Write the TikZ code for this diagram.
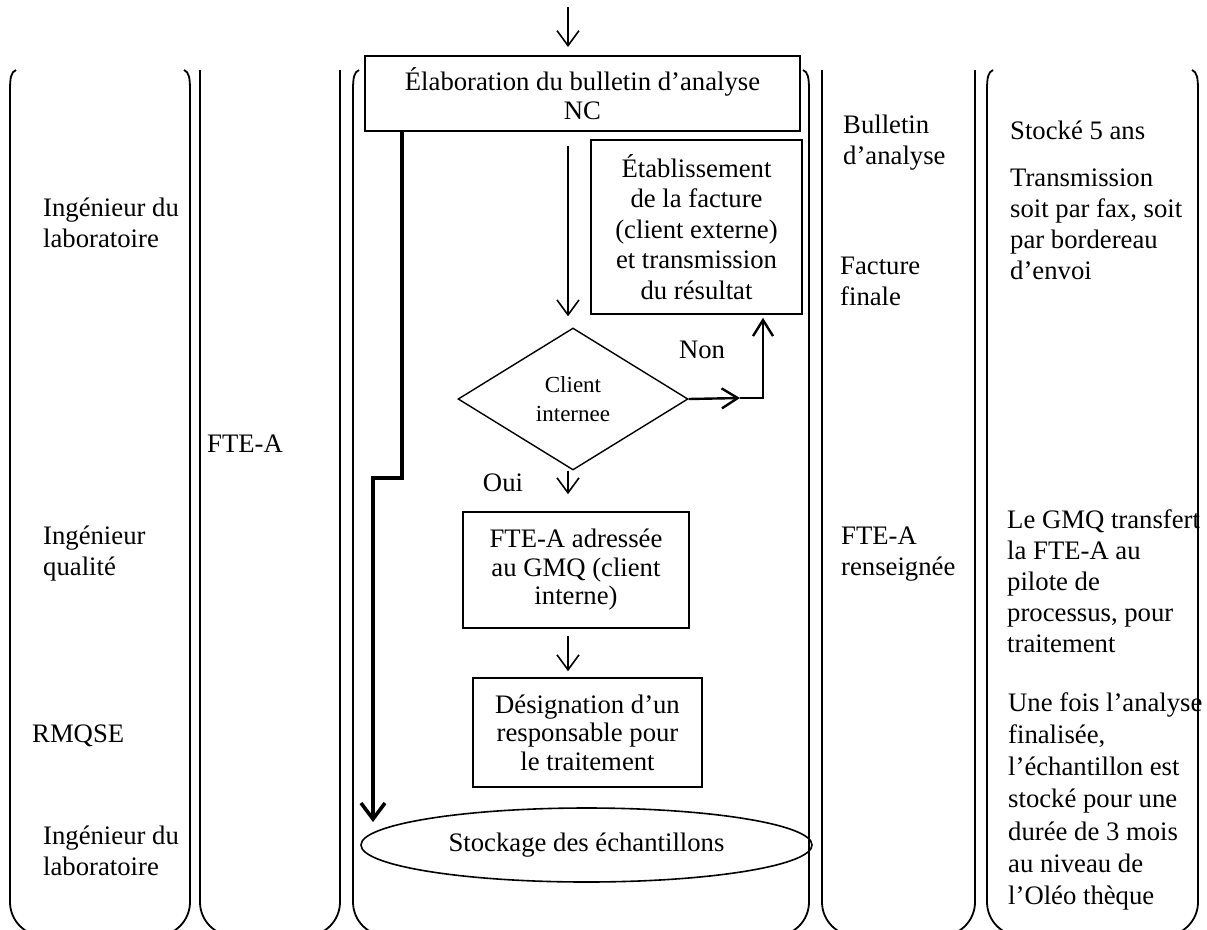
\documentclass[tikz,border=0pt]{standalone}
\usepackage{fontspec}
\setmainfont{Liberation Serif}
\usetikzlibrary{arrows.meta,shapes.geometric,calc}

\newcommand\sidefont{\fontsize{26.7}{31}\selectfont}
\newcommand\boxfont{\fontsize{26.7}{28.5}\selectfont}
\newcommand\decfont{\fontsize{23}{29}\selectfont}

\tikzset{
  lane/.style={line width=1.8pt},
  box/.style={draw, line width=1.6pt, align=center, font=\boxfont, inner sep=0pt},
  side/.style={align=left, anchor=north west, inner sep=0pt, font=\sidefont},
  lbl/.style={inner sep=0pt, font=\sidefont},
  arr/.style={line width=1.6pt, -{Straight Barb[length=15pt,width=22pt]}},
  heavy/.style={line width=3.6pt, -{Straight Barb[length=16pt,width=24pt]}},
  midarr/.style={line width=2.4pt, -{Straight Barb[length=16pt,width=20pt]}}
}

\begin{document}
\begin{tikzpicture}[x=1pt,y=-1pt]
\useasboundingbox (0,0) rectangle (1207,929);

% swim lanes: bracket-shaped lanes with curled tops
\foreach \l/\r in {10/190, 353/809, 987/1198} {
  \draw[lane] (\l+6,70) .. controls (\l+1,72) and (\l,78) .. (\l,90);
  \draw[lane] (\r-6,70) .. controls (\r-1,72) and (\r,78) .. (\r,90);
  \draw[lane, rounded corners=34pt] (\l,90) -- (\l,936) -- (\r,936) -- (\r,90);
}
% plain lanes
\foreach \l/\r in {200/340, 822/975} {
  \draw[lane, rounded corners=34pt] (\l,70) -- (\l,936) -- (\r,936) -- (\r,70);
}

% actors
\node[side] (act1) at (43,198) {Ingénieur du\\laboratoire};
\node[side] (act2) at (43,526) {Ingénieur\\qualité};
\node[side] (act3) at (32,725) {RMQSE};
\node[side] (act4) at (43,826) {Ingénieur du\\laboratoire};

% documents
\node[side] (doc1) at (207,435) {FTE-A};
\node[side] (doc2) at (843,115) {Bulletin\\d’analyse};
\node[side] (doc3) at (840,257) {Facture\\finale};
\node[side] (doc4) at (841,527) {FTE-A\\renseignée};

% remarks
\node[side] (rem1) at (1010,121) {Stocké 5 ans};
\node[side] (rem2) at (1010,169) {Transmission\\soit par fax, soit\\par bordereau\\d’envoi};
\node[side] (rem3) at (1007,509) {Le GMQ transfert\\la FTE-A au\\pilote de\\processus, pour\\traitement};
\node[side, font=\fontsize{26.7}{32.3}\selectfont] (rem4) at (1008,692) {Une fois l’analyse\\finalisée,\\l’échantillon est\\stocké pour une\\durée de 3 mois\\au niveau de\\l’Oléo thèque};

% process steps
\node[box, minimum width=435pt, minimum height=75pt] (elab) at (582.5,93.5) {Élaboration du bulletin d’analyse\\NC};
\node[box, font=\fontsize{26.7}{30.5}\selectfont, minimum width=211pt, minimum height=174pt] (fact) at (696.5,227) {Établissement\\de la facture\\(client externe)\\et transmission\\du résultat};
\node[draw, diamond, line width=1.4pt, minimum width=230pt, minimum height=142pt, inner sep=0pt, align=center, font=\decfont] (dec) at (573,399) {Client\\internee};
\node[box, minimum width=226pt, minimum height=116pt] (fte) at (576,570) {FTE-A adressée\\au GMQ (client\\interne)};
\node[box, minimum width=229pt, minimum height=109pt] (desig) at (587.5,732.5) {Désignation d’un\\responsable pour\\le traitement};
\node[draw, ellipse, line width=1.6pt, minimum width=451pt, minimum height=74pt, inner sep=0pt, font=\boxfont] (stock) at (586.5,845) {Stockage des échantillons};

\node[lbl] (non) at (702,350) {Non};
\node[lbl] (oui) at (503,483) {Oui};

% connectors
\coordinate (entry) at (568,7);
\draw[arr] (entry) -- (entry |- 0,47);

\draw[arr] ($(elab.south)+(-14.5,14)$) -- ($(dec.north)+(-5,-11)$);
\draw[arr] ($(dec.south)+(-5,0)$) -- ($(fte.north)+(-8,-17)$);
\draw[arr] ($(fte.south)+(-8,7)$) -- ($(desig.north)+(-19.5,-6)$);

\coordinate (nonmid) at (740,398);
\coordinate (noncorner) at (763,398);
\draw[midarr] (dec.east) -- (nonmid);
\draw[midarr] (nonmid) -- (noncorner) -- ($(fact.south -| noncorner)+(0,3)$);

\coordinate (jogA) at (402,478);
\coordinate (jogB) at (373,478);
\coordinate (stockIn) at (373,822);
\draw[heavy] (elab.south west -| jogA) -- (jogA) -- (jogB) -- (stockIn);
\end{tikzpicture}
\end{document}
